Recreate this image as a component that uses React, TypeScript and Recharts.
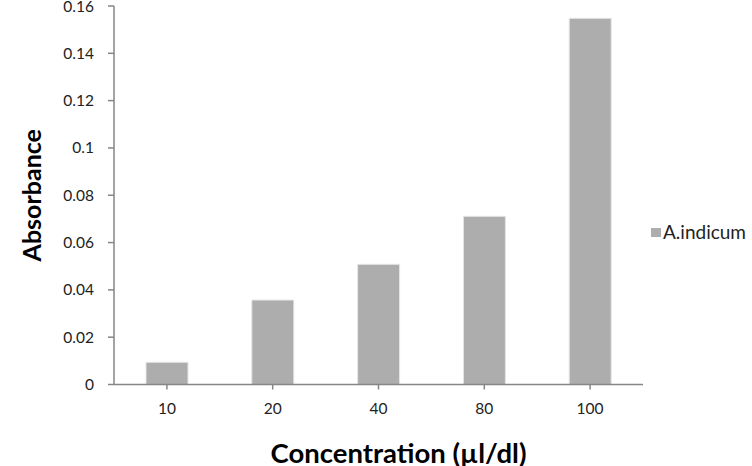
import React from "react";
import { BarChart, Bar, XAxis, YAxis, Legend } from "recharts";

const categories = ["10", "20", "40", "80", "100"];
const absorbance = [0.0094, 0.0357, 0.0508, 0.0711, 0.1548];
const yTicks = [0, 0.02, 0.04, 0.06, 0.08, 0.1, 0.12, 0.14, 0.16];
const seriesName = "A.indicum";

const data = categories.map((c, i) => ({ conc: c, value: absorbance[i] }));

const AXIS = "#868686";
const BAR = "#ADADAD";
const FONT = "Lato, 'Open Sans', sans-serif";

const renderLegend = () => (
  <div style={{ display: "flex", alignItems: "center", fontFamily: FONT, fontSize: 19, color: "#222", whiteSpace: "nowrap", lineHeight: "20px" }}>
    <span style={{ display: "inline-block", width: 10, height: 9, background: BAR, marginRight: 2, marginTop: 1 }} />
    <span>{seriesName}</span>
  </div>
);

export default function App() {
  return (
    <div style={{ position: "absolute", left: 0, top: 0, width: 752, height: 466, background: "#fff" }}>
      <BarChart
        width={752}
        height={466}
        data={data}
        margin={{ top: 6, right: 109, bottom: 0, left: 0 }}
        barCategoryGap={0}
      >
        <XAxis
          dataKey="conc"
          height={81.5}
          stroke={AXIS}
          strokeWidth={1.5}
          tickSize={5}
          tickMargin={13}
          tick={{ fill: "#222", fontSize: 15.5, fontFamily: FONT }}
          tickLine={{ stroke: AXIS }}
          interval={0}
          label={(props: any) => {
            const vb = props.viewBox;
            return (
              <text
                x={vb.x + vb.width / 2 + 20}
                y={463}
                textAnchor="middle"
                fontFamily={FONT}
                fontWeight="bold"
                fontSize={27.5}
                fill="#000"
              >
                Concentration (µl/dl)
              </text>
            );
          }}
        />
        <YAxis
          width={114}
          domain={[0, 0.16]}
          ticks={yTicks}
          interval={0}
          stroke={AXIS}
          strokeWidth={1.5}
          tickSize={6}
          tickMargin={14}
          tick={{ fill: "#222", fontSize: 15.5, fontFamily: FONT }}
          allowDataOverflow
          label={(props: any) => {
            const vb = props.viewBox;
            const cx = 41;
            const cy = vb.y + vb.height / 2;
            return (
              <text
                x={cx}
                y={cy}
                transform={`rotate(-90, ${cx}, ${cy})`}
                textAnchor="middle"
                fontFamily={FONT}
                fontWeight="bold"
                fontSize={25}
                fill="#000"
              >
                Absorbance
              </text>
            );
          }}
        />
        <Legend
          content={renderLegend}
          wrapperStyle={{ position: "absolute", left: 651, top: 222, width: 100, height: 0, overflow: "visible" }}
        />
        <Bar
          dataKey="value"
          name={seriesName}
          fill={BAR}
          stroke="#E6E6E6"
          strokeWidth={1}
          barSize={42}
          isAnimationActive={false}
        />
      </BarChart>
    </div>
  );
}
